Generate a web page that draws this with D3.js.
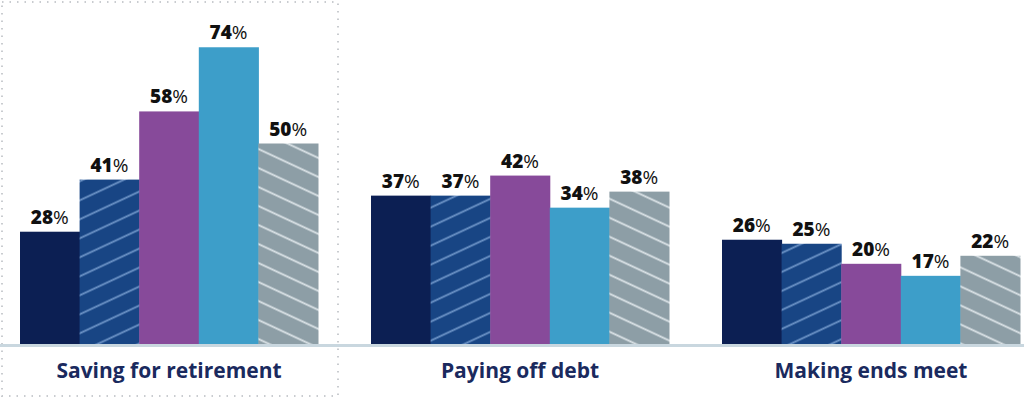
<!DOCTYPE html><html><head><meta charset="utf-8"><script src="https://cdn.jsdelivr.net/npm/d3@7"></script>
<style>body{margin:0;background:#fff}</style></head><body><svg id="c" width="1024" height="401"></svg>
<script>
const categories=["Saving for retirement","Paying off debt","Making ends meet"];
const seriesNames=["s1","s2","s3","s4","s5"];
const s1=[28,37,26], s2=[41,37,25], s3=[58,42,20], s4=[74,34,17], s5=[50,38,22];
const series=[s1,s2,s3,s4,s5];
const colors=["#0c1f53","url(#hA)","#874a9a","#3d9ec9","url(#hB)"];
const svg=d3.select("#c");
const defs=svg.append("defs");
function hatch(id,bg,line,dir){
  const p=defs.append("pattern").attr("id",id).attr("patternUnits","userSpaceOnUse").attr("width",40).attr("height",19)
    .attr("patternTransform",`skewY(${dir*-25})`);
  p.append("rect").attr("width",40).attr("height",19).attr("fill",bg);
  p.append("line").attr("x1",0).attr("x2",40).attr("y1",9.5).attr("y2",9.5).attr("stroke",line).attr("stroke-width",2.2);
}
hatch("hA","#184584","#6c93c6",1);
hatch("hB","#8d9ea6","#dbe3e7",-1);
const x0=d3.scaleBand().domain(categories).range([20,1020]).paddingInner(0.151).paddingOuter(0);
const x1=d3.scaleBand().domain(seriesNames).range([0,x0.bandwidth()]);
const y=d3.scaleLinear().domain([0,100]).range([344,-57]);
svg.append("rect").attr("x",2).attr("y",2).attr("width",336).attr("height",394).attr("fill","none")
  .attr("stroke","#c9ccd0").attr("stroke-width",2).attr("stroke-dasharray","1.5,6");
const g=svg.append("g");
categories.forEach((c,i)=>{
  series.forEach((s,j)=>{
    const xx=x0(c)+x1(seriesNames[j]);
    g.append("rect").attr("x",xx).attr("y",y(s[i])).attr("width",x1.bandwidth()+0.5).attr("height",y(0)-y(s[i])).attr("fill",colors[j]);
    const t=g.append("text").attr("x",xx+x1.bandwidth()/2).attr("y",y(s[i])-8).attr("text-anchor","middle")
      .attr("font-family","'Open Sans',sans-serif").attr("font-size",19).attr("fill","#111");
    t.append("tspan").attr("font-weight","800").text(s[i]);
    t.append("tspan").attr("font-weight","400").text("%");
  });
  svg.append("text").attr("x",x0(c)+x0.bandwidth()/2).attr("y",378).attr("text-anchor","middle")
    .attr("font-family","'Open Sans',sans-serif").attr("font-weight","700").attr("font-size",21).attr("fill","#1a2a5e").text(c);
});
svg.append("rect").attr("x",0).attr("y",344).attr("width",1024).attr("height",3).attr("fill","#c9d7df");
</script></body></html>
